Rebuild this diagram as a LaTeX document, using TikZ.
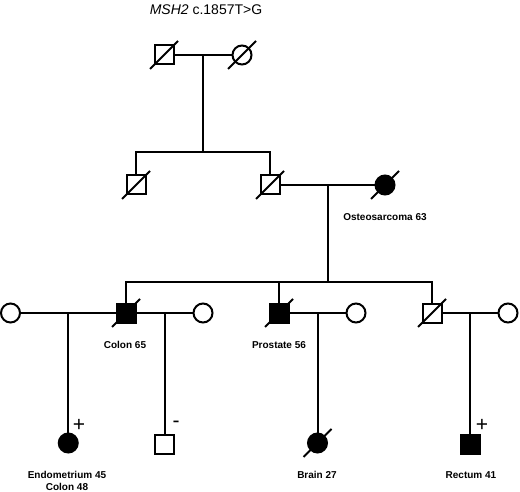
\documentclass[tikz,border=0pt]{standalone}
\usepackage{fontspec}
\setmainfont{Liberation Sans}

\tikzset{
  male/.style={draw, rectangle, minimum size=19pt, inner sep=0pt},
  female/.style={draw, circle, minimum size=19pt, inner sep=0pt},
  aff/.style={fill=black},
  lbl/.style={font=\bfseries\fontsize{10}{12}\selectfont, inner sep=0pt},
  sign/.style={font=\fontsize{21}{21}\selectfont, inner sep=0pt},
}

\begin{document}
\begin{tikzpicture}[x=1pt,y=-1pt,line width=2pt]
\useasboundingbox (0,0) rectangle (520,492);
\node (title) at (206,10) {\fontsize{14}{16}\selectfont\textit{MSH2} c.1857T>G};
% generation I
\node[male] (gfa) at (164,55) {};
\node[female] (gmo) at (242,55) {};
% generation II
\node[male] (unc) at (136,185) {};
\node[male] (fa) at (270,185) {};
\node[female,aff] (mo) at (385,185) {};
% generation III
\node[female] (w1) at (10.5,313) {};
\node[male,aff] (p1) at (126,313) {};
\node[female] (w2) at (203,313) {};
\node[male,aff] (p2) at (279,313) {};
\node[female] (w3) at (356,313) {};
\node[male] (p3) at (432,313) {};
\node[female] (w4) at (508,313) {};
% marriages
\draw (gfa) -- (gmo) coordinate[midway] (m1);
\draw (fa) -- (mo) coordinate[midway] (m2);
\draw (w1) -- (p1) coordinate[midway] (m3);
\draw (p1) -- (w2) coordinate[midway] (m4);
\draw (p2) -- (w3) coordinate[midway] (m5);
\draw (p3) -- (w4) coordinate[midway] (m6);
% sibships
\coordinate (s1) at (m1 |- 0,152);
\draw (m1) -- (s1);
\draw (unc) |- (s1) -| (fa);
\coordinate (s2) at (m2 |- 0,282);
\draw (m2) -- (s2);
\draw (p1) |- (s2) -| (p3);
\draw (p2) -- (p2 |- s2);
% generation IV
\node[female,aff] (c1) at (m3 |- 0,443) {};
\node[male] (c2) at (m4 |- 0,444) {};
\node[female,aff] (c3) at (m5 |- 0,443) {};
\node[male,aff] (c4) at (m6 |- 0,444) {};
\draw (m3) -- (c1);
\draw (m4) -- (c2);
\draw (m5) -- (c3);
\draw (m6) -- (c4);
% deceased
\foreach \n in {gfa,gmo,unc,fa,mo,p1,p2,p3,c3}
  \draw ([shift={(-14,14)}]\n.center) -- ([shift={(14,-14)}]\n.center);
% labels
\node[lbl] (l1) at (385,217) {Osteosarcoma 63};
\node[lbl] (l2) at (125,345) {Colon 65};
\node[lbl] (l3) at (279,345) {Prostate 56};
\node[lbl,align=center] (l4) at (67,481) {Endometrium 45\\Colon 48};
\node[lbl] (l5) at (317,475) {Brain 27};
\node[lbl] (l6) at (471,475) {Rectum 41};
\node[sign] (g1) at (79,425) {+};
\node[sign] (g2) at (176,424) {-};
\node[sign] (g3) at (482,425) {+};
\end{tikzpicture}
\end{document}
